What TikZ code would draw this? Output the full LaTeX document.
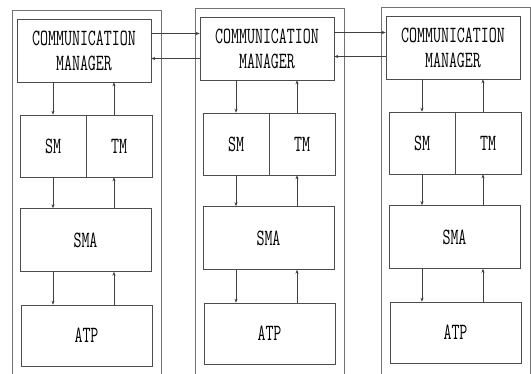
\documentclass[tikz,border=0pt]{standalone}
\usepackage{graphicx}
\usetikzlibrary{arrows.meta}
\newcommand{\dm}[1]{\scalebox{1}[1.5]{#1}}
\tikzset{
  unit/.style={draw=black!70,line width=0.6pt,inner sep=0pt,align=center,
               font=\ttfamily\fontsize{15.5}{25}\selectfont},
  flow/.style={draw=black!75,line width=0.6pt,-{Stealth[length=4pt,width=3.2pt]}},
  frame/.style={draw=black!55,line width=0.6pt}
}

\begin{document}
\begin{tikzpicture}[x=1pt,y=-1pt]
  \useasboundingbox (0,0) rectangle (531,374);
  % one column per site: frame, manager, SM/TM, SMA, ATP
  \foreach \c/\x/\d in {1/12/0, 2/195/-2, 3/381/-3}
  { \draw[frame] (\x,374) -- ({\x},{10+\d}) -- ({\x+149},{10+\d}) -- ({\x+149},374);
    \node[unit,minimum width=134pt,minimum height=63pt] (cm\c) at ({\x+72},{50.5+\d})
          {\dm{COMMUNICATION}\\\dm{MANAGER}};
    \node[unit,minimum width=66pt,minimum height=62pt] (sm\c) at ({\x+41},{146+\d}) {\dm{SM}};
    \node[unit,minimum width=66pt,minimum height=62pt] (tm\c) at ({\x+107},{146+\d}) {\dm{TM}};
    \node[unit,minimum width=131pt,minimum height=63pt] (sma\c) at ({\x+73.5},{240+\d}) {\dm{SMA}};
    \node[unit,minimum width=131pt,minimum height=61pt] (atp\c) at ({\x+74.5},{335.5+\d}) {\dm{ATP}};
    \coordinate (up\c) at ([xshift=-5pt]tm\c.center);
    \draw[flow] (cm\c.south -| sm\c.center) -- (sm\c.north);
    \draw[flow] (up\c |- tm\c.north) -- (up\c |- cm\c.south);
    \draw[flow] (sm\c.south) -- (sm\c.south |- sma\c.north);
    \draw[flow] (up\c |- sma\c.north) -- (up\c |- tm\c.south);
    \draw[flow] (sm\c.south |- sma\c.south) -- (sm\c.south |- atp\c.north);
    \draw[flow] (up\c |- atp\c.north) -- (up\c |- sma\c.south);
  }
  % links between the managers
  \coordinate (h1) at ([yshift=17pt]cm1.east);
  \coordinate (h2) at ([yshift=-8pt]cm1.east);
  \coordinate (h3) at ([yshift=16pt]cm2.east);
  \coordinate (h4) at ([yshift=-8pt]cm2.east);
  \draw[flow] (h1) -- (h1 -| cm2.west);
  \draw[flow] (h2 -| cm2.west) -- (h2);
  \draw[flow] (h3) -- (h3 -| cm3.west);
  \draw[flow] (h4 -| cm3.west) -- (h4);
\end{tikzpicture}
\end{document}
